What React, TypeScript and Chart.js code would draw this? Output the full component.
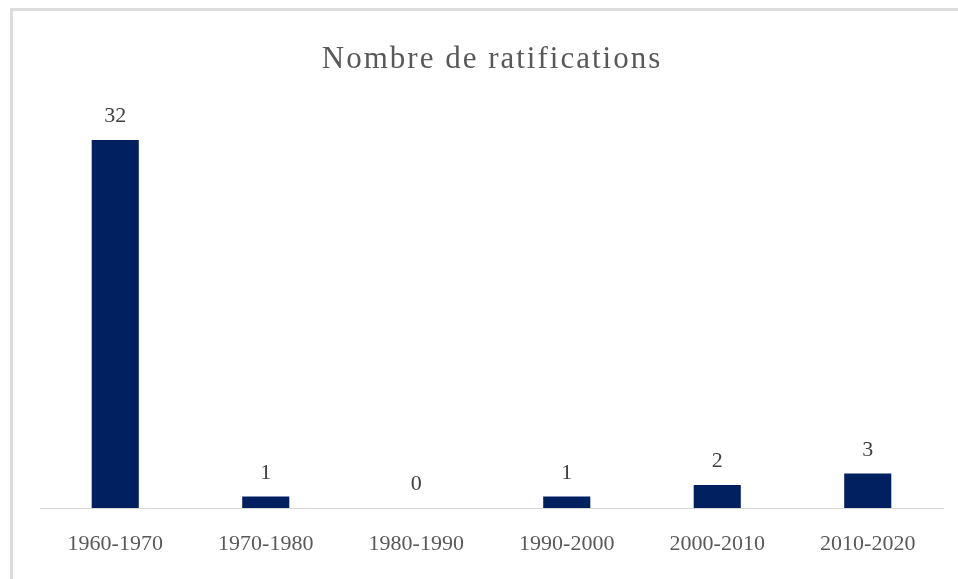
import React, { useEffect, useRef } from "react";
import { Chart, registerables } from "chart.js";

Chart.register(...registerables);

const categories = ["1960-1970", "1970-1980", "1980-1990", "1990-2000", "2000-2010", "2010-2020"];
const ratifications = [32, 1, 0, 1, 2, 3];
const titleText = "Nombre de ratifications";

const SERIF = "'Liberation Serif', 'Times New Roman', serif";

const titlePlugin = {
  id: "customTitle",
  afterDraw(chart: any) {
    const ctx = chart.ctx;
    ctx.save();
    ctx.font = `31px ${SERIF}`;
    try {
      (ctx as any).letterSpacing = "2px";
    } catch (e) {}
    ctx.fillStyle = "#595959";
    ctx.textAlign = "center";
    ctx.textBaseline = "alphabetic";
    ctx.fillText(titleText, 492, 68);
    ctx.restore();
  },
};

const dataLabelPlugin = {
  id: "dataLabels",
  afterDatasetsDraw(chart: any) {
    const ctx = chart.ctx;
    const meta = chart.getDatasetMeta(0);
    const data = chart.data.datasets[0].data as number[];
    ctx.save();
    ctx.font = `22px ${SERIF}`;
    ctx.fillStyle = "#404040";
    ctx.textAlign = "center";
    ctx.textBaseline = "alphabetic";
    meta.data.forEach((bar: any, i: number) => {
      ctx.fillText(String(data[i]), bar.x, bar.y - 18);
    });
    ctx.restore();
  },
};

export default function App() {
  const ref = useRef<HTMLCanvasElement>(null);
  useEffect(() => {
    if (!ref.current) return;
    const chart = new Chart(ref.current, {
      type: "bar",
      data: {
        labels: categories,
        datasets: [
          {
            data: ratifications,
            backgroundColor: "#002060",
            borderWidth: 0,
            categoryPercentage: 1,
            barPercentage: 0.313,
          },
        ],
      },
      options: {
        animation: false,
        responsive: false,
        maintainAspectRatio: false,
        layout: { padding: { left: 40, right: 15, top: 105.5, bottom: 0 } },
        plugins: { legend: { display: false }, title: { display: false }, tooltip: { enabled: false } },
        scales: {
          y: { display: false, min: 0, max: 35 },
          x: {
            grid: { display: false, drawTicks: false },
            border: { display: true, color: "#d9d9d9", width: 1 },
            ticks: { font: { family: SERIF, size: 22 }, color: "#595959", padding: 23, maxRotation: 0, autoSkip: false },
            afterFit: (scale: any) => {
              scale.height = 71;
            },
          },
        },
      },
      plugins: [titlePlugin, dataLabelPlugin],
    });
    return () => chart.destroy();
  }, []);
  return (
    <div style={{ position: "fixed", left: 0, top: 0, width: 958, height: 579, overflow: "hidden", background: "#fff" }}>
      <div
        style={{
          position: "absolute",
          left: 10,
          top: 8,
          width: 1100,
          height: 700,
          border: "3px solid #dcdcdc",
          boxSizing: "border-box",
        }}
      />
      <canvas ref={ref} width={958} height={579} style={{ position: "absolute", left: 0, top: 0 }} />
    </div>
  );
}
